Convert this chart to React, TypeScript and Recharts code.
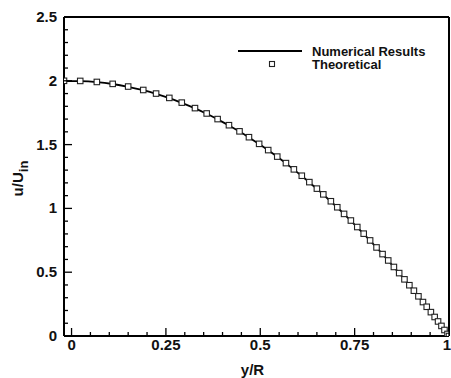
import React from "react";
import {
  ComposedChart,
  Line,
  Scatter,
  XAxis,
  YAxis,
  ReferenceLine,
} from "recharts";

// y/R positions of the plotted points
const yR = [
  -0.02, 0.023, 0.067, 0.109, 0.15, 0.19, 0.224, 0.259, 0.292, 0.327, 0.358,
  0.387, 0.417, 0.445, 0.47, 0.497, 0.521, 0.545, 0.568, 0.589, 0.61, 0.63,
  0.65, 0.667, 0.687, 0.704, 0.722, 0.74, 0.757, 0.774, 0.791, 0.808, 0.824,
  0.839, 0.854, 0.868, 0.882, 0.895, 0.907, 0.919, 0.931, 0.941, 0.952, 0.962,
  0.971, 0.98, 0.988, 0.996, 1.0,
];

// Theoretical u/Uin (square markers)
const theoretical = [
  2.0, 1.999, 1.991, 1.976, 1.955, 1.928, 1.9, 1.866, 1.829, 1.786, 1.744,
  1.7, 1.652, 1.604, 1.558, 1.506, 1.457, 1.406, 1.355, 1.306, 1.256, 1.206,
  1.155, 1.11, 1.056, 1.009, 0.957, 0.905, 0.854, 0.802, 0.749, 0.694, 0.642,
  0.592, 0.541, 0.493, 0.444, 0.398, 0.355, 0.311, 0.266, 0.229, 0.187, 0.149,
  0.114, 0.079, 0.047, 0.016, 0.0,
];

// Numerical u/Uin (solid line)
const numerical = [
  1.998, 1.997, 1.99, 1.975, 1.953, 1.926, 1.898, 1.864, 1.827, 1.784, 1.742,
  1.698, 1.65, 1.602, 1.556, 1.504, 1.455, 1.404, 1.353, 1.304, 1.254, 1.204,
  1.153, 1.108, 1.054, 1.007, 0.955, 0.903, 0.852, 0.8, 0.747, 0.693, 0.641,
  0.591, 0.54, 0.492, 0.443, 0.397, 0.354, 0.31, 0.265, 0.228, 0.186, 0.148,
  0.113, 0.078, 0.046, 0.015, 0.0,
];

const xTicks = [
  0, 0.05, 0.1, 0.15, 0.2, 0.25, 0.3, 0.35, 0.4, 0.45, 0.5, 0.55, 0.6, 0.65,
  0.7, 0.75, 0.8, 0.85, 0.9, 0.95, 1,
];
const xLabels = ["0", "0.25", "0.5", "0.75", "1"];
const yTicks = [
  0, 0.1, 0.2, 0.3, 0.4, 0.5, 0.6, 0.7, 0.8, 0.9, 1, 1.1, 1.2, 1.3, 1.4, 1.5,
  1.6, 1.7, 1.8, 1.9, 2, 2.1, 2.2, 2.3, 2.4, 2.5,
];
const yLabels = ["0", "0.5", "1", "1.5", "2", "2.5"];

const rows = yR.map((x, i) => ({
  x,
  num: numerical[i],
  theo: theoretical[i],
}));

const FONT = "'Liberation Sans', Arial, sans-serif";

function XTick({ x, y, payload }: any) {
  const label = String(payload.value);
  const major = xLabels.includes(label);
  // the last label sits on the right border; keep it inside the picture
  const last = label === "1";
  return (
    <g>
      <line x1={x} y1={y} x2={x} y2={y - (major ? 8 : 4)} stroke="#000" strokeWidth={1.3} />
      {major && (
        <text
          x={last ? x + 2 : x}
          y={y + 14}
          textAnchor={last ? "end" : "middle"}
          fontFamily={FONT}
          fontSize={15}
          fontWeight="bold"
          fill="#111"
        >
          {label}
        </text>
      )}
    </g>
  );
}

function YTick({ x, y, payload }: any) {
  const label = String(payload.value);
  const major = yLabels.includes(label);
  return (
    <g>
      <line x1={x} y1={y} x2={x + (major ? 8 : 4)} y2={y} stroke="#000" strokeWidth={1.3} />
      {major && (
        <text x={x - 7} y={y + 5} textAnchor="end" fontFamily={FONT} fontSize={15} fontWeight="bold" fill="#111">
          {label}
        </text>
      )}
    </g>
  );
}

function YTitle({ viewBox }: any) {
  const cx = viewBox.x + 23;
  const cy = viewBox.y + viewBox.height / 2 + 2;
  return (
    <text
      x={cx}
      y={cy}
      transform={`rotate(-90 ${cx} ${cy})`}
      textAnchor="middle"
      fontFamily={FONT}
      fontSize={15}
      fontWeight="bold"
      fill="#111"
    >
      u/U
      <tspan fontSize={13} dy={5}>in</tspan>
    </text>
  );
}

function XTitle({ viewBox }: any) {
  return (
    <text
      x={viewBox.x + viewBox.width / 2 - 4}
      y={viewBox.y + 39}
      textAnchor="middle"
      fontFamily={FONT}
      fontSize={15}
      fontWeight="bold"
      fill="#111"
    >
      y/R
    </text>
  );
}

function SquareMarker({ cx, cy }: any) {
  return (
    <rect x={cx - 2.75} y={cy - 2.75} width={5.5} height={5.5} fill="#fff" stroke="#222" strokeWidth={1.1} />
  );
}

function LegendBox() {
  return (
    <svg
      width={210}
      height={36}
      style={{ position: "absolute", left: 237, top: 42, display: "block" }}
    >
      <line x1={1} y1={9} x2={65} y2={9} stroke="#000" strokeWidth={2} />
      <text x={75} y={13.5} fontFamily={FONT} fontSize={13} fontWeight="bold" fill="#111">
        Numerical Results
      </text>
      <rect x={32.5} y={19.5} width={5} height={5} fill="#fff" stroke="#222" strokeWidth={1.1} />
      <text x={75} y={27} fontFamily={FONT} fontSize={13} fontWeight="bold" fill="#111">
        Theoretical
      </text>
    </svg>
  );
}

export default function App() {
  return (
    <div style={{ position: "fixed", left: 0, top: 0, width: 451, height: 378, background: "#fff" }}>
      <ComposedChart
        width={451}
        height={378}
        data={rows}
        margin={{ top: 17, right: 2, bottom: 0, left: 0 }}
      >
        <XAxis
          type="number"
          dataKey="x"
          domain={[-0.02, 1]}
          ticks={xTicks}
          interval={0}
          allowDataOverflow
          height={42}
          tickSize={0}
          tickMargin={0}
          tickLine={false}
          tick={<XTick />}
          axisLine={{ stroke: "#000", strokeWidth: 2 }}
          label={<XTitle />}
        />
        <YAxis
          type="number"
          domain={[0, 2.5]}
          ticks={yTicks}
          interval={0}
          allowDataOverflow
          width={64}
          tickSize={0}
          tickMargin={0}
          tickLine={false}
          tick={<YTick />}
          axisLine={{ stroke: "#000", strokeWidth: 2 }}
          label={<YTitle />}
        />
        <ReferenceLine y={2.5} stroke="#000" strokeWidth={2} />
        <ReferenceLine x={1} stroke="#000" strokeWidth={2} />
        <Scatter
          dataKey="theo"
          fill="#fff"
          shape={<SquareMarker />}
          isAnimationActive={false}
        />
        <Line
          dataKey="num"
          type="monotone"
          stroke="#000"
          strokeWidth={1.8}
          dot={false}
          isAnimationActive={false}
        />
      </ComposedChart>
      <LegendBox />
    </div>
  );
}
